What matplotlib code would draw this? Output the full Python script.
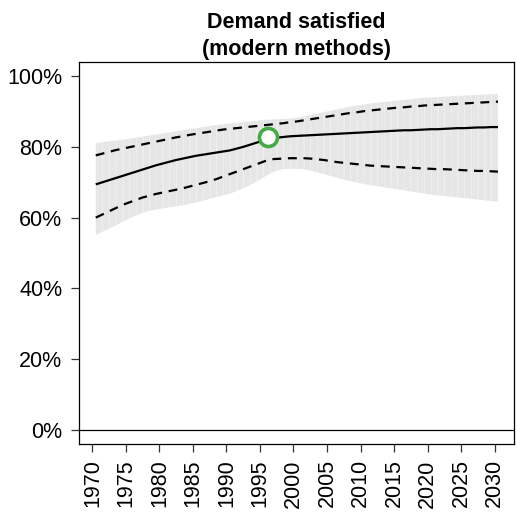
import matplotlib
matplotlib.use("Agg")
import matplotlib.pyplot as plt
import numpy as np

plt.rcParams['font.family'] = ['Liberation Sans', 'DejaVu Sans']

years = np.arange(1970.5, 2031.5, 1.0)

median = [0.694, 0.700, 0.706, 0.712, 0.718, 0.724, 0.730, 0.736, 0.742, 0.748,
          0.753, 0.758, 0.763, 0.767, 0.771, 0.775, 0.778, 0.781, 0.784, 0.787,
          0.790, 0.795, 0.800, 0.806, 0.812, 0.818, 0.823, 0.826, 0.828, 0.830,
          0.831, 0.832, 0.833, 0.834, 0.835, 0.836, 0.837, 0.838, 0.839, 0.840,
          0.841, 0.842, 0.843, 0.844, 0.845, 0.846, 0.847, 0.847, 0.848, 0.849,
          0.850, 0.850, 0.851, 0.852, 0.853, 0.853, 0.854, 0.855, 0.855, 0.856,
          0.856]

upper80 = [0.776, 0.781, 0.786, 0.791, 0.795, 0.799, 0.803, 0.807, 0.811, 0.815,
           0.819, 0.823, 0.827, 0.830, 0.834, 0.837, 0.840, 0.843, 0.846, 0.849,
           0.851, 0.853, 0.855, 0.857, 0.859, 0.861, 0.863, 0.865, 0.867, 0.870,
           0.872, 0.875, 0.878, 0.881, 0.884, 0.887, 0.890, 0.893, 0.896, 0.898,
           0.901, 0.903, 0.905, 0.907, 0.909, 0.911, 0.912, 0.914, 0.915, 0.917,
           0.918, 0.919, 0.920, 0.921, 0.922, 0.923, 0.924, 0.925, 0.926, 0.927,
           0.928]

lower80 = [0.600, 0.609, 0.618, 0.627, 0.636, 0.643, 0.650, 0.657, 0.662, 0.667,
           0.671, 0.675, 0.679, 0.683, 0.688, 0.693, 0.698, 0.703, 0.709, 0.716,
           0.723, 0.730, 0.737, 0.744, 0.751, 0.758, 0.765, 0.766, 0.767, 0.768,
           0.768, 0.768, 0.767, 0.765, 0.763, 0.760, 0.757, 0.755, 0.753, 0.751,
           0.749, 0.747, 0.746, 0.745, 0.744, 0.743, 0.742, 0.741, 0.740, 0.739,
           0.738, 0.737, 0.737, 0.736, 0.735, 0.734, 0.733, 0.732, 0.732, 0.731,
           0.730]

upper95 = [0.810, 0.813, 0.816, 0.818, 0.820, 0.823, 0.826, 0.829, 0.832, 0.835,
           0.838, 0.841, 0.844, 0.847, 0.850, 0.853, 0.856, 0.859, 0.862, 0.864,
           0.866, 0.868, 0.870, 0.872, 0.874, 0.876, 0.877, 0.878, 0.879, 0.880,
           0.882, 0.886, 0.890, 0.894, 0.898, 0.902, 0.906, 0.910, 0.914, 0.917,
           0.920, 0.923, 0.925, 0.927, 0.929, 0.931, 0.933, 0.935, 0.937, 0.939,
           0.940, 0.941, 0.942, 0.943, 0.944, 0.945, 0.946, 0.947, 0.948, 0.949,
           0.950]

lower95 = [0.551, 0.560, 0.569, 0.578, 0.588, 0.598, 0.606, 0.613, 0.619, 0.623,
           0.626, 0.629, 0.632, 0.635, 0.639, 0.643, 0.648, 0.653, 0.658, 0.663,
           0.668, 0.675, 0.683, 0.692, 0.702, 0.713, 0.725, 0.733, 0.737, 0.738,
           0.738, 0.737, 0.733, 0.728, 0.723, 0.718, 0.713, 0.708, 0.703, 0.699,
           0.695, 0.692, 0.689, 0.686, 0.683, 0.680, 0.677, 0.674, 0.671, 0.668,
           0.665, 0.663, 0.661, 0.659, 0.657, 0.655, 0.653, 0.651, 0.649, 0.647,
           0.645]

obs_year = [1996.2]
obs_value = [0.828]

x_ticks = list(range(1970, 2031, 5))
y_ticks = [0.0, 0.2, 0.4, 0.6, 0.8, 1.0]
y_tick_labels = ["0%", "20%", "40%", "60%", "80%", "100%"]
title = "Demand satisfied\n(modern methods)"

fig = plt.figure(figsize=(5.17, 5.23), dpi=100)
ax = fig.add_axes([79/517, 1 - 444/523, 435/517, 382/523])

# uncertainty band drawn as yearly segments (gives faint seams)
for i in range(len(years) - 1):
    ax.fill_between(years[i:i+2], lower95[i:i+2], upper95[i:i+2],
                    facecolor='#E6E6E6', edgecolor='none', linewidth=0,
                    antialiased=True)
for i in range(1, len(years) - 1):
    ax.plot([years[i], years[i]], [lower95[i], upper95[i]], color='white',
            lw=0.5, alpha=0.35)

ax.plot(years, median, color='black', lw=1.6, solid_capstyle='butt')
ax.plot(years, upper80, color='black', lw=1.6, dashes=(4, 3))
ax.plot(years, lower80, color='black', lw=1.6, dashes=(4, 3))
ax.axhline(0, color='black', lw=0.9)
ax.plot(obs_year, obs_value, 'o', ms=13, mfc='white', mec='#44AA44', mew=2.6,
        zorder=5)

ax.set_xlim(1968.0, 2032.9)
ax.set_ylim(-0.04, 1.04)
ax.set_xticks(x_ticks)
ax.set_xticklabels([str(y) for y in x_ticks], rotation=90, fontsize=15.5)
ax.set_yticks(y_ticks)
ax.set_yticklabels(y_tick_labels, fontsize=15.5)
ax.tick_params(axis='both', direction='out', length=6, width=0.9, color='#333333')
ax.tick_params(axis='y', pad=6)
ax.tick_params(axis='x', pad=5)
for s in ax.spines.values():
    s.set_linewidth(0.9)
ax.set_title(title, fontsize=15.5, fontweight='bold', pad=5, linespacing=1.35)

fig.savefig("out.png", dpi=100)
